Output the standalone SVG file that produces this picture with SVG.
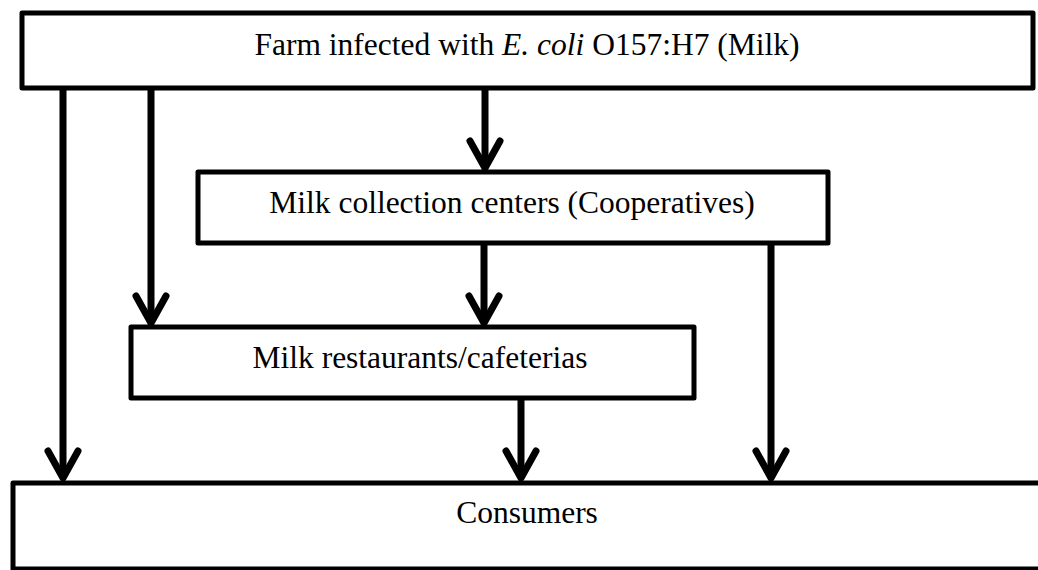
<svg xmlns="http://www.w3.org/2000/svg" width="1038" height="570" viewBox="0 0 1038 570">
<style>
.box{fill:#fff;stroke:#000;stroke-width:5;stroke-linejoin:round}
.lbl{font-family:"Liberation Serif","Times New Roman",serif;font-size:31.5px;fill:#000;text-anchor:middle}
.con{stroke:#000;stroke-width:7;fill:none;marker-end:url(#ah)}
</style>
<defs>
<marker id="ah" markerUnits="userSpaceOnUse" markerWidth="40" markerHeight="40" viewBox="-34 -20 40 40" refX="0" refY="0" orient="auto" overflow="visible">
<path d="M-27,-15 L0,0 L-27,15" fill="none" stroke="#000" stroke-width="7" stroke-linecap="round" stroke-linejoin="round"/>
</marker>
</defs>
<rect width="1038" height="570" fill="#fff"/>
<g id="connectors">
<line class="con" x1="63" y1="88" x2="63" y2="478"/>
<line class="con" x1="151" y1="88" x2="151" y2="323"/>
<line class="con" x1="485" y1="88" x2="485" y2="168"/>
<line class="con" x1="484" y1="243" x2="484" y2="323"/>
<line class="con" x1="771" y1="243" x2="771" y2="478"/>
<line class="con" x1="521" y1="398" x2="521" y2="478"/>
</g>
<g id="farm">
<rect class="box" x="22" y="13" width="1011" height="75" stroke-width="6"/>
<text class="lbl" x="527" y="55">Farm infected with <tspan font-style="italic">E. coli</tspan> O157:H7 (Milk)</text>
</g>
<g id="collection">
<rect class="box" x="198" y="172" width="630" height="71"/>
<text class="lbl" x="512" y="213">Milk collection centers (Cooperatives)</text>
</g>
<g id="restaurants">
<rect class="box" x="131" y="327" width="563" height="71"/>
<text class="lbl" x="420" y="368">Milk restaurants/cafeterias</text>
</g>
<g id="consumers">
<rect class="box" x="13" y="483" width="1040" height="86" stroke-width="4"/>
<text class="lbl" x="527" y="523">Consumers</text>
</g>
</svg>
